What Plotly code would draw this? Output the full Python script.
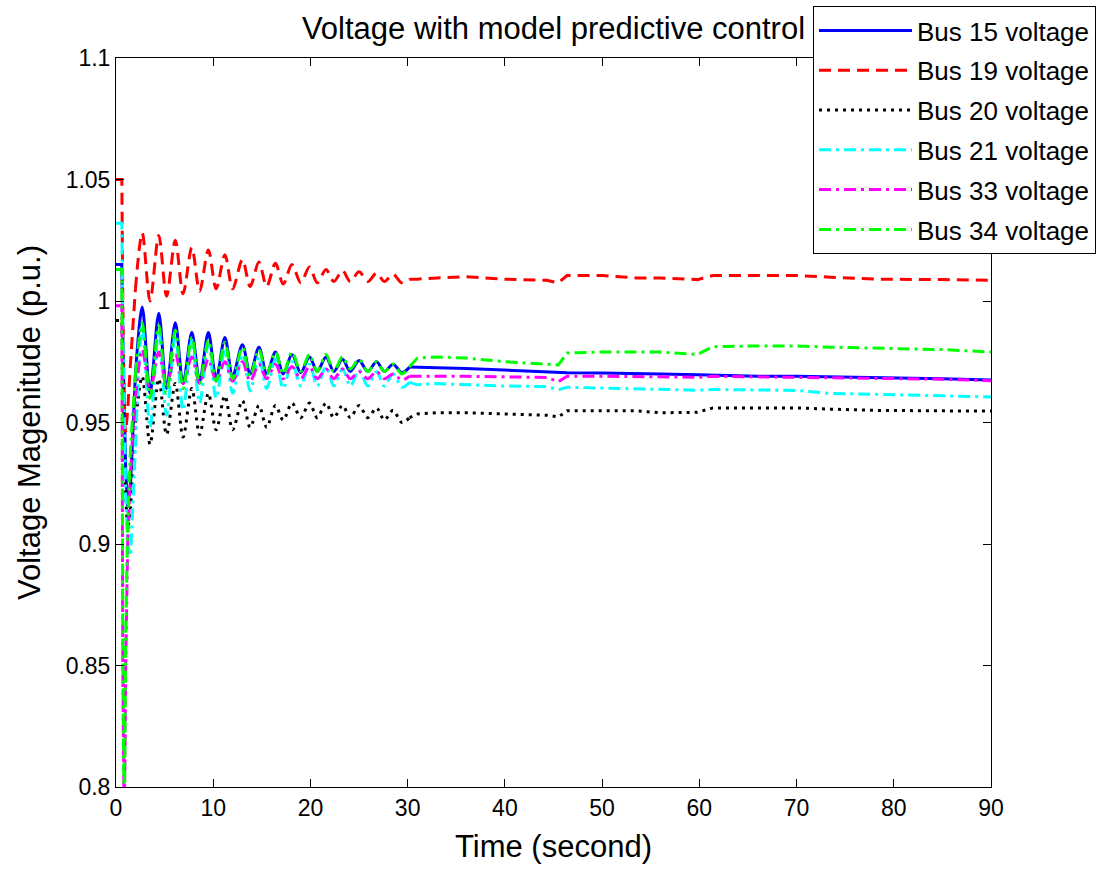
import plotly.graph_objects as go

# time grid (s): start transient, oscillation peaks/troughs, late steps
time_s = [0, 0.6, 0.7, 0.85, 1.0, 1.2, 1.5, 2.0,
          2.7, 3.5, 4.4, 5.2, 6.1, 6.9, 7.8, 8.6, 9.5, 10.3, 11.2, 12.0, 13.0, 13.8,
          14.7, 15.5, 16.4, 17.2, 18.1, 19.0, 19.9, 20.7, 21.6, 22.4, 23.3, 24.1,
          25.0, 25.9, 26.8, 27.6, 28.5, 29.4, 30.2,
          31.0, 33.0, 36.0, 40.0, 44.3, 45.5, 46.4, 50.0, 53.5, 56.0, 59.8, 61.4,
          66.0, 70.0, 73.5, 78.0, 85.0, 90.0]

bus15 = [1.015, 1.015, 0.985, 0.950, 0.930, 0.915, 0.925, 0.970,
         0.9975, 0.962, 0.995, 0.964, 0.991, 0.966, 0.987, 0.967, 0.987, 0.968, 0.985, 0.969,
         0.982, 0.970, 0.981, 0.970, 0.979, 0.970, 0.978, 0.9705, 0.977, 0.971, 0.977, 0.971,
         0.976, 0.971, 0.9755, 0.971, 0.975, 0.971, 0.974, 0.9705, 0.9728,
         0.9728, 0.9725, 0.9722, 0.9715, 0.971, 0.9705, 0.9705, 0.9704, 0.9703, 0.970,
         0.9697, 0.9695, 0.969, 0.969, 0.9688, 0.9685, 0.968, 0.9675]

bus19 = [1.050, 1.050, 1.000, 0.950, 0.946, 0.955, 0.975, 1.005,
         1.028, 1.000, 1.027, 1.002, 1.025, 1.003, 1.022, 1.004, 1.021, 1.005, 1.019, 1.005,
         1.017, 1.006, 1.016, 1.006, 1.0155, 1.007, 1.015, 1.0075, 1.014, 1.0075, 1.013, 1.008,
         1.0125, 1.008, 1.012, 1.008, 1.0115, 1.008, 1.011, 1.0075, 1.009,
         1.009, 1.0095, 1.010, 1.009, 1.0085, 1.0075, 1.0105, 1.0105, 1.0095, 1.0095,
         1.0088, 1.0105, 1.0105, 1.0105, 1.0098, 1.009, 1.0088, 1.0085]

bus20 = [0.992, 0.992, 0.970, 0.940, 0.920, 0.905, 0.915, 0.950,
         0.969, 0.941, 0.968, 0.945, 0.966, 0.944, 0.964, 0.945, 0.962, 0.947, 0.961, 0.947,
         0.959, 0.948, 0.957, 0.948, 0.957, 0.951, 0.958, 0.952, 0.958, 0.952, 0.958, 0.952,
         0.957, 0.952, 0.957, 0.952, 0.956, 0.951, 0.955, 0.950, 0.952,
         0.9535, 0.954, 0.954, 0.9535, 0.953, 0.9523, 0.9548, 0.9548, 0.9548, 0.954,
         0.9542, 0.956, 0.956, 0.956, 0.9555, 0.955, 0.9548, 0.9547]

bus21 = [1.032, 1.032, 0.990, 0.950, 0.920, 0.900, 0.895, 0.940,
         0.990, 0.948, 0.988, 0.953, 0.986, 0.955, 0.984, 0.958, 0.982, 0.960, 0.980, 0.962,
         0.978, 0.963, 0.977, 0.964, 0.976, 0.964, 0.975, 0.965, 0.974, 0.965, 0.973, 0.965,
         0.972, 0.965, 0.9715, 0.965, 0.971, 0.965, 0.970, 0.9645, 0.9665,
         0.9655, 0.966, 0.9655, 0.965, 0.9648, 0.9635, 0.9645, 0.9642, 0.9638, 0.9635,
         0.9633, 0.9636, 0.9634, 0.9632, 0.962, 0.9615, 0.961, 0.9605]

bus33 = [0.998, 0.998, 0.850, 0.780, 0.850, 0.900, 0.930, 0.960,
         0.980, 0.963, 0.979, 0.965, 0.978, 0.966, 0.977, 0.966, 0.976, 0.967, 0.975, 0.967,
         0.975, 0.967, 0.974, 0.968, 0.974, 0.968, 0.973, 0.968, 0.973, 0.968, 0.972, 0.968,
         0.972, 0.968, 0.971, 0.968, 0.971, 0.968, 0.970, 0.9675, 0.969,
         0.969, 0.9692, 0.969, 0.9688, 0.9685, 0.9668, 0.969, 0.969, 0.969, 0.9688,
         0.9686, 0.969, 0.9688, 0.9686, 0.9685, 0.968, 0.9678, 0.9672]

bus34 = [1.013, 1.013, 0.850, 0.780, 0.860, 0.910, 0.940, 0.970,
         0.991, 0.960, 0.990, 0.962, 0.988, 0.964, 0.985, 0.966, 0.984, 0.967, 0.983, 0.968,
         0.981, 0.969, 0.980, 0.970, 0.979, 0.970, 0.979, 0.971, 0.978, 0.971, 0.978, 0.971,
         0.977, 0.972, 0.976, 0.971, 0.975, 0.971, 0.974, 0.970, 0.973,
         0.9765, 0.977, 0.9765, 0.975, 0.974, 0.9737, 0.9786, 0.979, 0.979, 0.979,
         0.978, 0.9812, 0.9815, 0.9815, 0.981, 0.9805, 0.980, 0.979]

series_names = ["Bus 15 voltage", "Bus 19 voltage", "Bus 20 voltage",
                "Bus 21 voltage", "Bus 33 voltage", "Bus 34 voltage"]
series_values = [bus15, bus19, bus20, bus21, bus33, bus34]
colors = ["#0000FF", "#FF0000", "#000000", "#00FFFF", "#FF00FF", "#00FF00"]
dashes = ["solid", "12px,7px", "3px,5px", "12px,5px,3px,5px", "12px,5px,3px,5px", "12px,5px,3px,5px"]

x_ticks = [0, 10, 20, 30, 40, 50, 60, 70, 80, 90]
y_ticks = [0.8, 0.85, 0.9, 0.95, 1.0, 1.05, 1.1]
y_tick_text = ["0.8", "0.85", "0.9", "0.95", "1", "1.05", "1.1"]

FONT = "Arial, Liberation Sans, sans-serif"
n_tr = 8
i_osc_end = time_s.index(30.2)

fig = go.Figure()
for name, vals, col, dsh in zip(series_names, series_values, colors, dashes):
    segs = [(0, n_tr, "linear"), (n_tr - 1, i_osc_end + 1, "spline"), (i_osc_end, len(time_s), "linear")]
    for k, (a, b, shape) in enumerate(segs):
        fig.add_trace(go.Scatter(
            x=time_s[a:b], y=vals[a:b], mode="lines", name=name,
            legendgroup=name, showlegend=(k == 0),
            line=dict(color=col, width=3, dash=dsh, shape=shape, smoothing=0.9),
        ))

fig.update_layout(
    width=1096, height=872,
    margin=dict(l=116, r=105, t=58, b=85, autoexpand=False),
    paper_bgcolor="white", plot_bgcolor="white",
    font=dict(family=FONT, color="black", size=23),
    title=dict(text="Voltage with model predictive control", x=0.5, xref="paper",
               xanchor="center", y=1 - 28 / 872, yref="container", yanchor="middle",
               font=dict(size=31, family=FONT, color="black")),
    legend=dict(x=(813 - 116) / 875, y=(787 - 6) / 729, xanchor="left", yanchor="top",
                bgcolor="white", bordercolor="black", borderwidth=1,
                font=dict(size=26, family=FONT, color="black"),
                tracegroupgap=3, itemwidth=93),
    showlegend=True,
)
fig.update_xaxes(range=[0, 90], tickvals=x_ticks, showline=True, linecolor="black",
                 linewidth=1, mirror="ticks", ticks="inside", ticklen=8, tickcolor="black",
                 showgrid=False, zeroline=False,
                 title=dict(text="Time (second)", font=dict(size=31, family=FONT)),
                 tickfont=dict(size=23))
fig.update_yaxes(range=[0.8, 1.1], tickvals=y_ticks, ticktext=y_tick_text, showline=True,
                 linecolor="black", linewidth=1, mirror="ticks", ticks="inside", ticklen=8,
                 tickcolor="black", showgrid=False, zeroline=False,
                 title=dict(text="Voltage Magenitude (p.u.)", font=dict(size=31, family=FONT)),
                 tickfont=dict(size=23))

fig.write_html("out.html")
